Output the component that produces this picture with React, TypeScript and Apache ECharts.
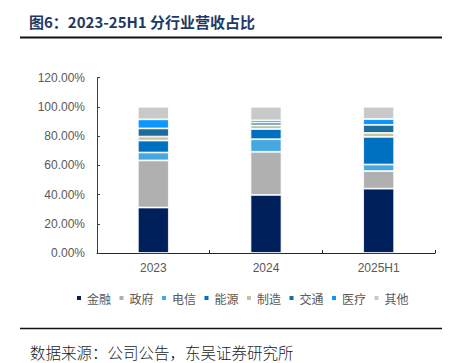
import React, { useEffect, useRef } from "react";
import * as echarts from "echarts";

const categories = ["2023", "2024", "2025H1"];
const seriesNames = ["金融", "政府", "电信", "能源", "制造", "交通", "医疗", "其他"];
const finance = [31.1, 39.7, 44.0];
const government = [32.2, 29.5, 12.0];
const telecom = [5.4, 8.6, 4.5];
const energy = [8.2, 7.0, 18.9];
const manufacturing = [2.7, 2.5, 2.7];
const transport = [5.6, 1.8, 5.5];
const medical = [6.2, 1.6, 4.0];
const others = [8.6, 9.3, 8.4];
const yTicks = [0, 20, 40, 60, 80, 100, 120];

const seriesValues = [finance, government, telecom, energy, manufacturing, transport, medical, others];
const colors = ["#00205B", "#B0B0B0", "#45A8E0", "#0070C0", "#C8C19E", "#1F6B99", "#0C97FF", "#C9C9C9"];

export default function App() {
  const ref = useRef<HTMLDivElement>(null);
  useEffect(() => {
    if (!ref.current) return;
    const chart = echarts.init(ref.current, undefined, { renderer: "svg" });
    chart.setOption({
      animation: false,
      backgroundColor: "#ffffff",
      color: colors,
      graphic: [
        {
          type: "text",
          x: 29,
          y: 21,
          style: {
            text: "图6：2023-25H1 分行业营收占比",
            fontSize: 15,
            fontWeight: "bold",
            fill: "#1F3864",
            fontFamily: "Noto Sans CJK SC",
            verticalAlign: "middle",
          },
        },
        {
          type: "line",
          shape: { x1: 20, y1: 37.5, x2: 442, y2: 37.5 },
          style: { stroke: "#111", lineWidth: 2 },
        },
        {
          type: "line",
          shape: { x1: 20, y1: 328.5, x2: 442, y2: 328.5 },
          style: { stroke: "#111", lineWidth: 1.5 },
        },
        {
          type: "text",
          x: 30,
          y: 352,
          style: {
            text: "数据来源：公司公告，东吴证券研究所",
            fontSize: 15.5,
            fill: "#1a1a1a",
            fontFamily: "Noto Sans CJK SC",
            fontWeight: 300,
            verticalAlign: "middle",
          },
        },
      ],
      legend: {
        data: seriesNames,
        left: 70,
        top: 287,
        itemWidth: 6,
        itemHeight: 6,
        itemGap: 6.5,
        icon: "rect",
        textStyle: { fontSize: 12, color: "#595959", fontFamily: "Noto Sans CJK SC" },
      },
      grid: { left: 97, right: 22, top: 77.5, bottom: 110, containLabel: false },
      xAxis: {
        type: "category",
        data: categories,
        axisLine: { lineStyle: { color: "#262626", width: 1 } },
        axisTick: { show: true, inside: true, length: 3, lineStyle: { color: "#262626" } },
        axisLabel: { color: "#595959", fontSize: 12, margin: 9, fontFamily: "Liberation Sans" },
      },
      yAxis: {
        type: "value",
        min: 0,
        max: 120,
        interval: 20,
        axisLine: { show: true, lineStyle: { color: "#404040", width: 1 } },
        axisTick: { show: true, inside: true, length: 3, lineStyle: { color: "#404040" } },
        splitLine: { show: false },
        axisLabel: {
          color: "#595959",
          fontSize: 12,
          margin: 12,
          fontFamily: "Liberation Sans",
          formatter: (v: number) => (yTicks.includes(v) ? v.toFixed(2) + "%" : ""),
        },
      },
      series: seriesNames.map((name, i) => ({
        name,
        type: "bar",
        stack: "total",
        barWidth: 31,
        data: seriesValues[i],
        itemStyle: { color: colors[i], borderColor: "#ffffff", borderWidth: 0.8 },
      })),
    });
    return () => chart.dispose();
  }, []);
  return (
    <div
      ref={ref}
      style={{ position: "absolute", left: 0, top: 0, width: 457, height: 363 }}
    />
  );
}
